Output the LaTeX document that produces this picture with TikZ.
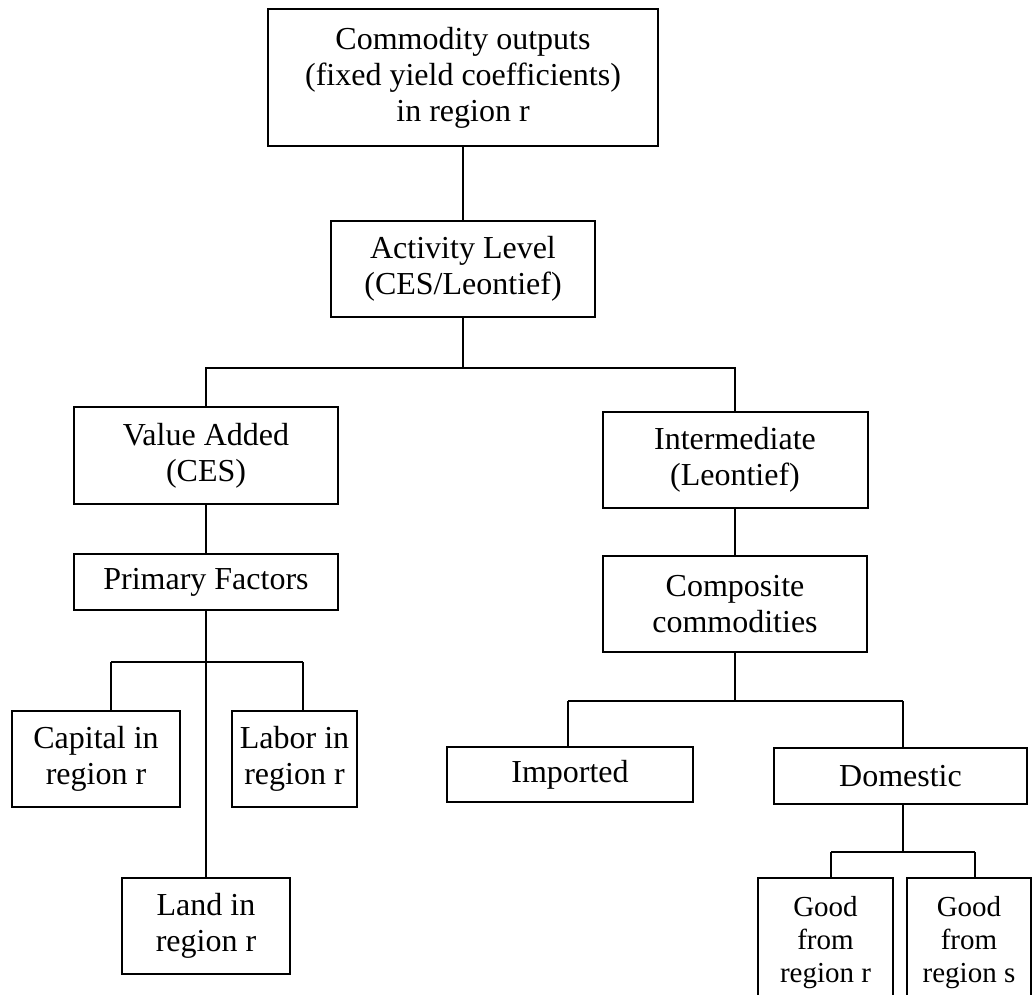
\documentclass[tikz,border=0pt]{standalone}
\usepackage{fontspec}
\setmainfont{Liberation Serif}
\begin{document}
\begin{tikzpicture}[x=1pt,y=-1pt,
  box/.style={draw, line width=2pt, align=center, inner sep=0pt,
    font=\fontsize{32}{36}\selectfont},
  smallbox/.style={box, font=\fontsize{29}{33}\selectfont},
  conn/.style={line width=2pt}]
\clip (0,0) rectangle (1034,994);
\fill[white] (0,0) rectangle (1034,994);
% nodes
\node[box, minimum width=390pt, minimum height=137pt] (top) at (463,77.5)
  {Commodity outputs\\(fixed yield coefficients)\\in region r};
\node[box, minimum width=264pt, minimum height=96pt] (act) at (463,269)
  {Activity Level\\(CES/Leontief)};
\node[box, minimum width=264pt, minimum height=97pt] (va) at (206,455.5)
  {Value Added\\(CES)};
\node[box, minimum width=265pt, minimum height=96pt] (inter) at (735,460)
  {Intermediate\\(Leontief)};
\node[box, minimum width=264pt, minimum height=56pt] (pf) at (206,582)
  {Primary Factors};
\node[box, minimum width=264pt, minimum height=96pt] (comp) at (735,604)
  {Composite\\commodities};
\node[box, minimum width=168pt, minimum height=96pt] (cap) at (96,759)
  {Capital in\\region r};
\node[box, minimum width=125pt, minimum height=96pt] (lab) at (294.5,759)
  {Labor in\\region r};
\node[box, minimum width=168pt, minimum height=96pt] (land) at (206,926)
  {Land in\\region r};
\node[box, minimum width=246pt, minimum height=55pt] (imp) at (570,774.5)
  {Imported};
\node[box, minimum width=253pt, minimum height=56pt] (dom) at (900.5,776)
  {Domestic};
\node[smallbox, minimum width=135pt, minimum height=130pt] (gr) at (825.5,943)
  {Good\\from\\region r};
\node[smallbox, minimum width=124pt, minimum height=130pt] (gs) at (969,943)
  {Good\\from\\region s};
% junctions
\coordinate (j1) at (463,368);
\coordinate (capj) at (111,662);
\coordinate (labj) at (303,662);
\coordinate (impj) at (568,701);
\coordinate (domj) at (903,701);
\coordinate (grj) at (831,852);
\coordinate (gsj) at (975,852);
\coordinate (dj) at (903,852);
% connectors
\draw[conn] (top.south) -- (act.north);
\draw[conn] (act.south) -- (j1);
\draw[conn] (va.north) |- (j1) -| (inter.north);
\draw[conn] (va.south) -- (pf.north);
\draw[conn] (pf.south) -- (land.north);
\draw[conn] (capj) -- (labj);
\draw[conn] (capj) -- (capj |- cap.north);
\draw[conn] (labj) -- (labj |- lab.north);
\draw[conn] (inter.south) -- (comp.north);
\draw[conn] (comp.south) -- (comp.south |- impj);
\draw[conn] (impj) -- (domj);
\draw[conn] (impj) -- (impj |- imp.north);
\draw[conn] (domj) -- (domj |- dom.north);
\draw[conn] (dom.south -| dj) -- (dj);
\draw[conn] (grj) -- (gsj);
\draw[conn] (grj) -- (grj |- gr.north);
\draw[conn] (gsj) -- (gsj |- gs.north);
\end{tikzpicture}
\end{document}
